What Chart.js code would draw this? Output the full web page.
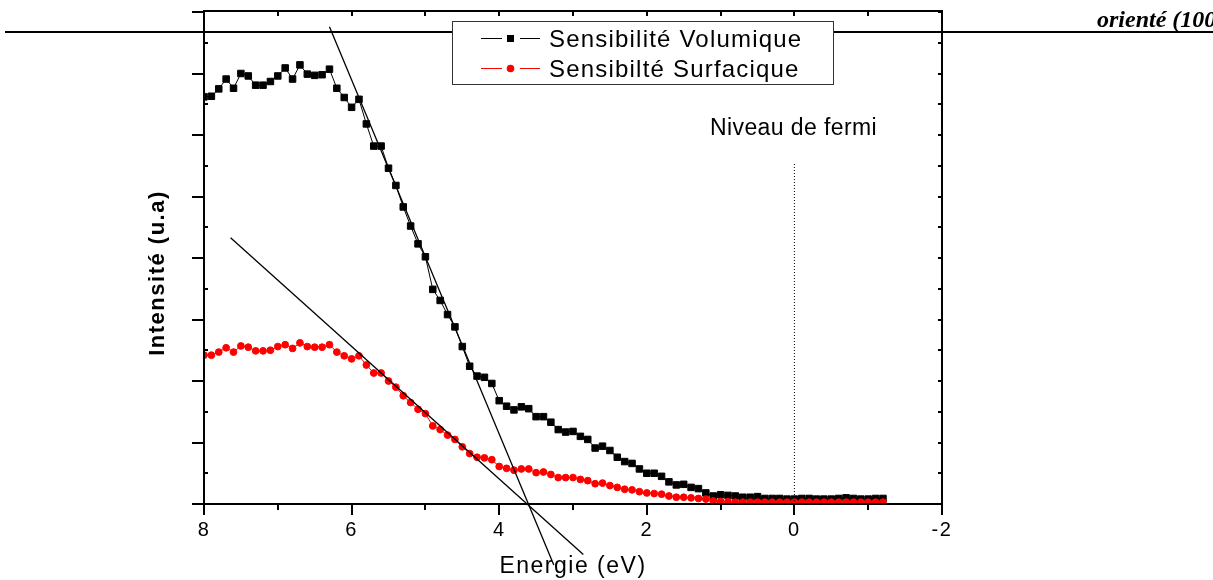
<!DOCTYPE html>
<html>
<head>
<meta charset="utf-8">
<script src="https://cdn.jsdelivr.net/npm/chart.js@4/dist/chart.umd.min.js"></script>
<style>
  html, body { margin: 0; padding: 0; background: #fff; }
  #wrap { width: 1213px; height: 580px; }
</style>
</head>
<body>
<div id="wrap"><canvas id="spectre" width="1213" height="580"></canvas></div>
<script>
// energies (eV), one point every 0.1 eV
const energies = [
  8.0, 7.9, 7.8, 7.7, 7.6, 7.5, 7.4, 7.3, 7.2, 7.1,
  7.0, 6.9, 6.8, 6.7, 6.6, 6.5, 6.4, 6.3, 6.2, 6.1,
  6.0, 5.9, 5.8, 5.7, 5.6, 5.5, 5.4, 5.3, 5.2, 5.1,
  5.0, 4.9, 4.8, 4.7, 4.6, 4.5, 4.4, 4.3, 4.2, 4.1,
  4.0, 3.9, 3.8, 3.7, 3.6, 3.5, 3.4, 3.3, 3.2, 3.1,
  3.0, 2.9, 2.8, 2.7, 2.6, 2.5, 2.4, 2.3, 2.2, 2.1,
  2.0, 1.9, 1.8, 1.7, 1.6, 1.5, 1.4, 1.3, 1.2, 1.1,
  1.0, 0.9, 0.8, 0.7, 0.6, 0.5, 0.4, 0.3, 0.2, 0.1,
  0.0, -0.1, -0.2, -0.3, -0.4, -0.5, -0.6, -0.7, -0.8, -0.9,
  -1.0, -1.1, -1.2
];

const volumique = [
  6.62, 6.63, 6.75, 6.91, 6.76, 7.00, 6.96, 6.81, 6.81, 6.87,
  6.96, 7.09, 6.91, 7.14, 6.99, 6.97, 6.98, 7.07, 6.76, 6.61,
  6.45, 6.58, 6.18, 5.82, 5.82, 5.46, 5.18, 4.83, 4.52, 4.23,
  4.02, 3.49, 3.31, 3.08, 2.88, 2.56, 2.24, 2.08, 2.06, 1.96,
  1.68, 1.59, 1.53, 1.58, 1.55, 1.42, 1.42, 1.33, 1.21, 1.17,
  1.18, 1.10, 1.05, 0.91, 0.94, 0.87, 0.76, 0.69, 0.66, 0.57,
  0.50, 0.50, 0.45, 0.36, 0.31, 0.32, 0.27, 0.25, 0.18, 0.13,
  0.15, 0.14, 0.13, 0.11, 0.11, 0.12, 0.09, 0.09, 0.09, 0.08,
  0.08, 0.09, 0.09, 0.08, 0.08, 0.08, 0.09, 0.10, 0.09, 0.08,
  0.08, 0.09, 0.09
];

const surfacique = [
  2.42, 2.42, 2.47, 2.54, 2.47, 2.57, 2.55, 2.49, 2.49, 2.50,
  2.56, 2.59, 2.53, 2.62, 2.56, 2.55, 2.55, 2.59, 2.47, 2.41,
  2.36, 2.41, 2.26, 2.13, 2.13, 2.00, 1.90, 1.76, 1.65, 1.54,
  1.47, 1.27, 1.21, 1.12, 1.05, 0.93, 0.82, 0.76, 0.75, 0.72,
  0.61, 0.58, 0.55, 0.57, 0.57, 0.51, 0.52, 0.48, 0.43, 0.43,
  0.43, 0.40, 0.38, 0.33, 0.34, 0.30, 0.27, 0.24, 0.23, 0.20,
  0.18, 0.17, 0.16, 0.13, 0.11, 0.11, 0.10, 0.09, 0.08, 0.05,
  0.04, 0.04, 0.03, 0.03, 0.03, 0.03, 0.03, 0.03, 0.03, 0.03,
  0.03, 0.03, 0.03, 0.03, 0.03, 0.03, 0.03, 0.03, 0.03, 0.03,
  0.03, 0.03, 0.03
];

// tangent lines (end points) and fermi marker
const tangenteVolX = [6.30, 3.26];
const tangenteVolY = [7.76, -0.99];
const tangenteSurfX = [7.64, 2.86];
const tangenteSurfY = [4.33, -0.82];
const fermiX = [0, 0];
const fermiY = [0, 5.54];

const xTickValues = [8, 6, 4, 2, 0, -2];

const pts = (xs, ys) => xs.map((x, i) => ({x: x, y: ys[i]}));

const FONT = "'Liberation Sans', Arial, sans-serif";

// box, ticks, legend and notes drawn on top
const decor = {
  id: 'decor',
  beforeDraw(chart) {
    chart.ctx.letterSpacing = '1.5px';
  },
  afterDraw(chart) {
    const ctx = chart.ctx;
    const {left, right, top, bottom} = chart.chartArea;
    const xs = chart.scales.x, ys = chart.scales.y;
    ctx.save();
    ctx.strokeStyle = '#000';
    ctx.lineWidth = 2;
    ctx.strokeRect(left, top - 1, right - left, bottom - top + 1);
    ctx.beginPath();
    for (let v = -2; v <= 8; v++) {
      const px = Math.round(xs.getPixelForValue(v));
      ctx.moveTo(px, bottom);
      ctx.lineTo(px, bottom + (v % 2 === 0 ? 11 : 6));
      ctx.moveTo(px, top - 1);
      ctx.lineTo(px, top + 4);
    }
    for (let v = 0; v <= 8; v += 0.5) {
      const py = Math.round(ys.getPixelForValue(v));
      if (Number.isInteger(v)) {
        ctx.moveTo(left - 12, py);
        ctx.lineTo(left, py);
      } else {
        ctx.moveTo(left, py);
        ctx.lineTo(left + 4, py);
      }
      ctx.moveTo(right, py);
      ctx.lineTo(right - 4, py);
    }
    ctx.stroke();

    // page rule
    ctx.beginPath();
    ctx.moveTo(5, 32);
    ctx.lineTo(1213, 32);
    ctx.stroke();

    // legend
    ctx.fillStyle = '#fff';
    ctx.fillRect(452, 21, 382, 63);
    ctx.strokeStyle = '#333';
    ctx.lineWidth = 1;
    ctx.strokeRect(452.5, 21.5, 381, 63);
    const rows = [38, 68];
    [0, 1].forEach((di, k) => {
      const ds = chart.data.datasets[di];
      const y = rows[k];
      ctx.strokeStyle = ds.borderColor;
      ctx.lineWidth = 1;
      ctx.beginPath();
      ctx.moveTo(481, y + 0.5); ctx.lineTo(502, y + 0.5);
      ctx.moveTo(520, y + 0.5); ctx.lineTo(540, y + 0.5);
      ctx.stroke();
      ctx.fillStyle = ds.pointBackgroundColor;
      if (ds.pointStyle === 'rect') {
        ctx.fillRect(507, y - 3, 7, 7);
      } else {
        ctx.beginPath();
        ctx.arc(510.5, y + 0.5, 3.8, 0, Math.PI * 2);
        ctx.fill();
      }
      ctx.fillStyle = '#000';
      ctx.font = '24px ' + FONT;
      ctx.letterSpacing = '1.2px';
      ctx.textBaseline = 'alphabetic';
      ctx.textAlign = 'left';
      ctx.fillText(ds.label, 549, y + 9);
    });

    // fermi note
    ctx.font = '23px ' + FONT;
    ctx.letterSpacing = '0.4px';
    ctx.fillText('Niveau de fermi', 710, 135);

    // y axis title
    ctx.save();
    ctx.translate(158, 273);
    ctx.rotate(-Math.PI / 2);
    ctx.font = 'bold 22px ' + FONT;
    ctx.letterSpacing = '1.5px';
    ctx.textAlign = 'center';
    ctx.textBaseline = 'middle';
    ctx.fillText('Intensité (u.a)', 0, 0);
    ctx.restore();

    // page heading fragment
    ctx.font = "bold italic 24px 'Liberation Serif', 'Times New Roman', serif";
    ctx.letterSpacing = '0px';
    ctx.textAlign = 'left';
    ctx.fillText('orienté (100)', 1097, 27);
    ctx.restore();
  }
};

new Chart(document.getElementById('spectre'), {
  type: 'line',
  data: {
    datasets: [
      {
        label: 'Sensibilité Volumique',
        data: pts(energies, volumique),
        borderColor: '#000',
        borderWidth: 1,
        pointStyle: 'rect',
        pointRadius: 4.6,
        pointBorderWidth: 1,
        pointBackgroundColor: '#000',
        pointBorderColor: '#000',
        order: 2
      },
      {
        label: 'Sensibilté Surfacique',
        data: pts(energies, surfacique),
        borderColor: '#ff0000',
        borderWidth: 1,
        pointStyle: 'circle',
        pointRadius: 3.4,
        pointBorderWidth: 1,
        pointBackgroundColor: '#ff0000',
        pointBorderColor: '#ff0000',
        order: 1
      },
      {
        label: 'tangente volumique',
        data: pts(tangenteVolX, tangenteVolY),
        borderColor: '#000',
        borderWidth: 1.3,
        pointRadius: 0,
        clip: false,
        order: 0
      },
      {
        label: 'tangente surfacique',
        data: pts(tangenteSurfX, tangenteSurfY),
        borderColor: '#000',
        borderWidth: 1.3,
        pointRadius: 0,
        clip: false,
        order: 0
      },
      {
        label: 'fermi',
        data: pts(fermiX, fermiY),
        borderColor: '#000',
        borderWidth: 1,
        borderDash: [1, 2],
        pointRadius: 0,
        order: 0
      }
    ]
  },
  options: {
    responsive: false,
    animation: false,
    events: [],
    layout: { padding: { left: 0, right: 271, top: 12, bottom: 0 } },
    elements: { line: { tension: 0 } },
    plugins: {
      legend: { display: false },
      tooltip: { enabled: false }
    },
    scales: {
      x: {
        type: 'linear',
        min: -2,
        max: 8,
        reverse: true,
        afterBuildTicks: s => { s.ticks = xTickValues.map(v => ({value: v})); },
        afterFit: s => { s.height = 76; },
        grid: { display: false, drawTicks: false },
        border: { display: false },
        ticks: {
          color: '#000',
          padding: 14,
          maxRotation: 0,
          font: { family: FONT, size: 20 }
        },
        title: {
          display: true,
          text: 'Energie (eV)',
          color: '#000',
          padding: { top: 0, bottom: 0 },
          font: { family: FONT, size: 23 }
        }
      },
      y: {
        type: 'linear',
        min: 0,
        max: 8,
        afterFit: s => { s.width = 204; },
        grid: { display: false, drawTicks: false },
        border: { display: false },
        ticks: { display: false, stepSize: 1 }
      }
    }
  },
  plugins: [decor]
});
</script>
</body>
</html>
